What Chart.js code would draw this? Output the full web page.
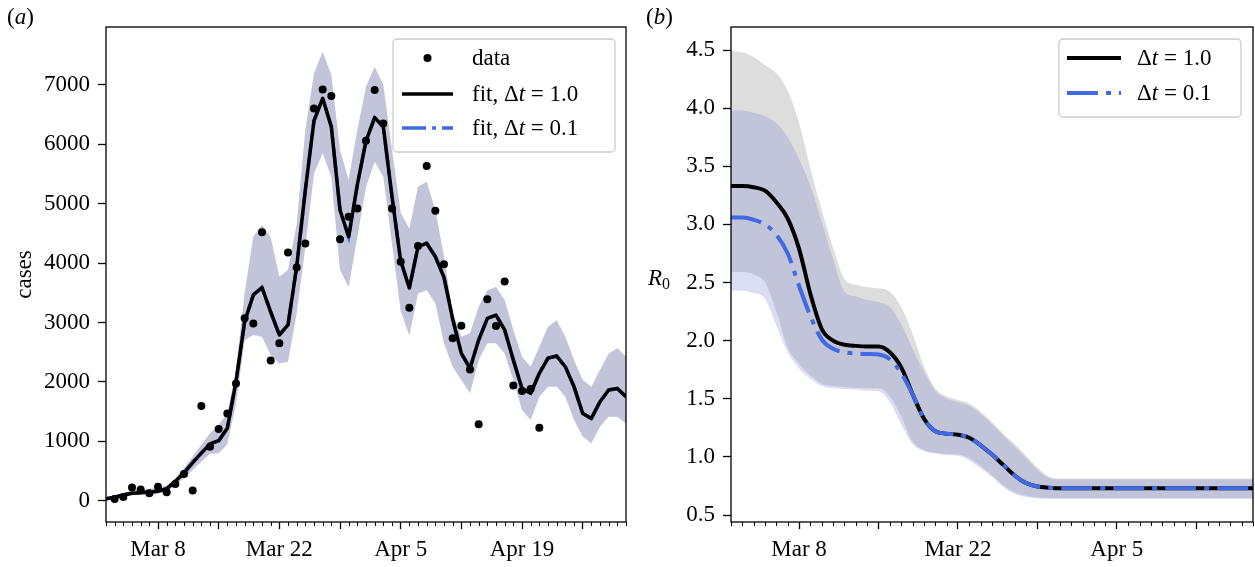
<!DOCTYPE html>
<html>
<head>
<meta charset="utf-8">
<script src="https://cdn.jsdelivr.net/npm/chart.js@4.4.0/dist/chart.umd.min.js"></script>
<style>
  html, body { margin: 0; padding: 0; background: #fff; }
  #wrap { position: relative; width: 1255px; height: 567px; overflow: hidden; }
  .panel { position: absolute; top: 0; }
  #panelA { left: 0; }
  #panelB { left: 630px; }
</style>
</head>
<body>
<div id="wrap">
  <div class="panel" id="panelA"><canvas id="casesChart" width="630" height="567"></canvas></div>
  <div class="panel" id="panelB"><canvas id="r0Chart" width="625" height="567"></canvas></div>
</div>
<script>
// ---- panel (a): daily cases, day 0 = Mar 2 ----
const caseDays = [1, 2, 3, 4, 5, 6, 7, 8, 9, 10, 11, 12, 13, 14, 15, 16, 17, 18, 19, 20,
  21, 22, 23, 24, 25, 26, 27, 28, 29, 30, 31, 32, 33, 34, 35, 36, 37, 38, 39, 40,
  41, 42, 43, 44, 45, 46, 47, 48, 49, 50];
const caseCounts = [28, 60, 220, 190, 125, 235, 140, 280, 450, 170, 1595, 910, 1207, 1470, 1975, 3070, 2985, 4520, 2360, 2650,
  4180, 3925, 4330, 6605, 6925, 6815, 4400, 4780, 4920, 6060, 6915, 6350, 4920, 4025, 3250, 4290, 5635, 4880, 3980, 2735,
  2945, 2210, 1285, 3390, 2940, 3690, 1940, 1845, 1880, 1230];

const fitDays = [0, 1, 2, 3, 4, 5, 6, 7, 8, 9, 10, 11, 12, 13, 14, 15, 16, 17, 18, 19, 20,
  21, 22, 23, 24, 25, 26, 27, 28, 29, 30, 31, 32, 33, 34, 35, 36, 37, 38, 39, 40,
  41, 42, 43, 44, 45, 46, 47, 48, 49, 50, 51, 52, 53, 54, 55, 56, 57, 58, 59, 60];
const fitCases = [30, 60, 95, 125, 135, 145, 160, 200, 325, 470, 640, 800, 955, 1010, 1220, 2005, 3015, 3465, 3590, 3180, 2790,
  2960, 3940, 5230, 6400, 6775, 6295, 4895, 4445, 5320, 6060, 6450, 6295, 5120, 4040, 3580, 4275, 4335, 4110, 3760, 3060,
  2480, 2230, 2705, 3070, 3125, 2875, 2370, 1890, 1810, 2145, 2400, 2435, 2255, 1920, 1470, 1385, 1665, 1865, 1890, 1750];
const fitCasesHigh = [60, 95, 130, 170, 185, 200, 215, 260, 380, 550, 740, 940, 1135, 1280, 1470, 2200, 3500, 4450, 4640, 4440, 3770,
  3885, 4650, 6240, 7195, 7560, 7165, 5905, 5400, 6240, 6970, 7305, 7000, 5905, 4850, 4580, 5285, 5370, 4895, 4110, 3155,
  2760, 2820, 3265, 3545, 3600, 3380, 2875, 2425, 2255, 2590, 2930, 3040, 2760, 2370, 2030, 1920, 2200, 2480, 2565, 2425];
const fitCasesLow = [0, 30, 65, 90, 100, 110, 120, 150, 265, 375, 515, 655, 790, 800, 950, 1640, 2705, 2790, 2760, 2455, 2310,
  2340, 3150, 4275, 5510, 5850, 5455, 3885, 3600, 4445, 5285, 5705, 5455, 4335, 3200, 2780, 3490, 3545, 3325, 2650, 2255,
  2030, 1810, 2370, 2650, 2650, 2480, 2030, 1525, 1360, 1750, 1920, 1920, 1750, 1360, 1080, 965, 1245, 1415, 1415, 1300];
// the two fits coincide in panel (a)
const fitCasesDt01 = fitCases;
const caseTicks = [0, 1000, 2000, 3000, 4000, 5000, 6000, 7000];

// ---- panel (b): R0, day 0 = Mar 2 ----
const r0Days = [0, 1, 2, 3, 4, 5, 6, 7, 8, 9, 10, 11, 12, 13, 14, 15, 16, 17, 18, 19, 20, 21, 22, 23,
  24, 25, 26, 27, 28, 29, 30, 31, 32, 33, 34, 35, 36, 37, 38, 39, 40, 41, 42, 43, 44, 45, 46];
const r0Dt10 = [3.33, 3.33, 3.32, 3.29, 3.19, 3.05, 2.79, 2.40, 2.10, 2.00, 1.965, 1.955, 1.95, 1.95, 1.90, 1.77,
  1.54, 1.33, 1.22, 1.20, 1.19, 1.165, 1.10, 1.02, 0.93, 0.84, 0.775, 0.745, 0.735,
  0.73, 0.73, 0.73, 0.73, 0.73, 0.73, 0.73, 0.73, 0.73, 0.73, 0.73, 0.73, 0.73, 0.73, 0.73, 0.73, 0.73, 0.73];
const r0Dt01 = [3.06, 3.06, 3.04, 3.00, 2.91, 2.75, 2.47, 2.21, 2.01, 1.93, 1.90, 1.89, 1.885, 1.88, 1.84, 1.72,
  1.54, 1.33, 1.22, 1.20, 1.19, 1.165, 1.10, 1.02, 0.93, 0.84, 0.775, 0.745, 0.735,
  0.73, 0.73, 0.73, 0.73, 0.73, 0.73, 0.73, 0.73, 0.73, 0.73, 0.73, 0.73, 0.73, 0.73, 0.73, 0.73, 0.73, 0.73];
const r0Dt10High = [4.49, 4.48, 4.44, 4.37, 4.30, 4.15, 3.87, 3.48, 3.12, 2.80, 2.53, 2.48, 2.46, 2.45, 2.42, 2.29,
  2.06, 1.78, 1.59, 1.52, 1.49, 1.46, 1.39, 1.30, 1.20, 1.11, 1.01, 0.91, 0.83,
  0.815, 0.815, 0.815, 0.815, 0.815, 0.815, 0.815, 0.815, 0.815, 0.815, 0.815, 0.815, 0.815, 0.815, 0.815, 0.815, 0.815, 0.815];
const r0Dt10Low = [2.59, 2.59, 2.57, 2.50, 2.25, 1.94, 1.80, 1.70, 1.63, 1.61, 1.60, 1.595, 1.59, 1.59, 1.52, 1.35,
  1.13, 1.06, 1.035, 1.025, 1.02, 0.99, 0.92, 0.84, 0.755, 0.695, 0.665, 0.65, 0.645,
  0.645, 0.645, 0.645, 0.645, 0.645, 0.645, 0.645, 0.645, 0.645, 0.645, 0.645, 0.645, 0.645, 0.645, 0.645, 0.645, 0.645, 0.645];
const r0Dt01High = [3.98, 3.98, 3.96, 3.93, 3.87, 3.75, 3.56, 3.33, 3.02, 2.70, 2.42, 2.38, 2.35, 2.33, 2.29, 2.14,
  1.93, 1.73, 1.57, 1.50, 1.47, 1.44, 1.37, 1.28, 1.18, 1.09, 0.99, 0.89, 0.82,
  0.805, 0.805, 0.805, 0.805, 0.805, 0.805, 0.805, 0.805, 0.805, 0.805, 0.805, 0.805, 0.805, 0.805, 0.805, 0.805, 0.805, 0.805];
const r0Dt01Low = [2.43, 2.43, 2.41, 2.36, 2.13, 1.90, 1.76, 1.67, 1.61, 1.59, 1.585, 1.58, 1.57, 1.565, 1.47, 1.28,
  1.11, 1.05, 1.03, 1.015, 1.01, 0.97, 0.90, 0.83, 0.74, 0.68, 0.655, 0.645, 0.64,
  0.64, 0.64, 0.64, 0.64, 0.64, 0.64, 0.64, 0.64, 0.64, 0.64, 0.64, 0.64, 0.64, 0.64, 0.64, 0.64, 0.64, 0.64];
const r0Ticks = [0.5, 1.0, 1.5, 2.0, 2.5, 3.0, 3.5, 4.0, 4.5];

// ---- shared date axis ----
const weekTickDays = [6, 13, 20, 27, 34, 41, 48, 55];
const dateTickDays = [6, 20, 34, 48];
const dateTickLabels = ['Mar 8', 'Mar 22', 'Apr 5', 'Apr 19'];

const SERIF = '"Liberation Serif", "Times New Roman", serif';
const FS = 23;
const BLUE = '#4169e1';
const GREY_BAND = 'rgba(128,128,128,0.27)';
const BLUE_BAND = 'rgba(110,118,205,0.25)';
Chart.defaults.font.family = SERIF;
Chart.defaults.color = '#000';

const xy = (xs, ys) => xs.map((x, i) => ({ x: x, y: ys[i] }));

function richText(ctx, parts, x, y, size) {
    parts.forEach(([txt, italic]) => {
        ctx.font = (italic ? 'italic ' : '') + size + 'px ' + SERIF;
        ctx.fillText(txt, x, y);
        x += ctx.measureText(txt).width;
    });
    return x;
}

// frame, minor ticks, panel letter, legend, horizontal y label
function panelDecor(o) {
    return {
        id: 'panelDecor',
        afterDraw(chart) {
            const ctx = chart.ctx, area = chart.chartArea, xs = chart.scales.x;
            ctx.save();
            ctx.strokeStyle = '#000';
            ctx.lineWidth = 1;
            for (let d = Math.ceil(xs.min); d <= xs.max; d++) {
                if (weekTickDays.includes(d)) continue;
                const px = Math.round(xs.getPixelForValue(d)) + 0.5;
                ctx.beginPath();
                ctx.moveTo(px, area.bottom);
                ctx.lineTo(px, area.bottom + 4);
                ctx.stroke();
            }
            ctx.lineWidth = 1.3;
            ctx.strokeRect(area.left, area.top, area.right - area.left, area.bottom - area.top);

            ctx.fillStyle = '#000';
            ctx.textBaseline = 'alphabetic';
            richText(ctx, [['(', false], [o.letter, true], [')', false]], o.letterX, 24, FS);

            if (o.yLabel) {
                let x = richText(ctx, [['R', true]], o.yLabel.x, o.yLabel.y, FS);
                richText(ctx, [['0', false]], x, o.yLabel.y + 4, 16);
            }

            const b = o.legend;
            ctx.beginPath();
            ctx.roundRect(b.x, b.y, b.w, b.h, 4);
            ctx.fillStyle = 'rgba(255,255,255,0.8)';
            ctx.fill();
            ctx.strokeStyle = '#cccccc';
            ctx.lineWidth = 1.3;
            ctx.stroke();
            b.entries.forEach((e, i) => {
                const cy = b.rowY[i];
                if (e.kind === 'dot') {
                    ctx.beginPath();
                    ctx.arc((b.hx0 + b.hx1) / 2, cy, 4, 0, Math.PI * 2);
                    ctx.fillStyle = '#000';
                    ctx.fill();
                } else {
                    ctx.beginPath();
                    ctx.setLineDash(e.dash || []);
                    ctx.lineCap = 'butt';
                    ctx.strokeStyle = e.color;
                    ctx.lineWidth = e.width;
                    ctx.moveTo(b.hx0, cy);
                    ctx.lineTo(b.hx1, cy);
                    ctx.stroke();
                    ctx.setLineDash([]);
                }
                ctx.fillStyle = '#000';
                richText(ctx, e.parts, b.tx, cy + 7, FS);
            });
            ctx.restore();
        }
    };
}

function dateAxis(max) {
    return {
        type: 'linear', min: 0, max: max,
        afterBuildTicks: s => { s.ticks = weekTickDays.filter(d => d <= max).map(v => ({ value: v })); },
        afterFit: s => { s.height = 45; },
        border: { display: false },
        grid: { drawOnChartArea: false, tickLength: 7, tickWidth: 1.3, tickColor: '#000' },
        ticks: {
            autoSkip: false, maxRotation: 0, minRotation: 0, padding: 7,
            font: { size: FS },
            callback: v => { const i = dateTickDays.indexOf(v); return i < 0 ? '' : dateTickLabels[i]; }
        }
    };
}

function bandSets(high, low, days, color, order, curve) {
    const common = { pointRadius: 0, borderColor: 'transparent', borderWidth: 1, order: order,
        cubicInterpolationMode: curve ? 'monotone' : 'default', tension: 0 };
    return [
        Object.assign({ data: xy(days, high), fill: '+1', backgroundColor: color }, common),
        Object.assign({ data: xy(days, low), fill: false }, common)
    ];
}

// Panel (a)
document.addEventListener('DOMContentLoaded', function () {
    const dashA = [24, 6, 4, 6];
    new Chart(document.getElementById('casesChart').getContext('2d'), {
        type: 'line',
        data: {
            datasets: [
                ...bandSets(fitCasesHigh, fitCasesLow, fitDays, GREY_BAND, 6, false),
                ...bandSets(fitCasesHigh, fitCasesLow, fitDays, BLUE_BAND, 5, false),
                { data: xy(fitDays, fitCasesDt01), borderColor: BLUE, borderWidth: 3.5, borderDash: dashA,
                  pointRadius: 0, fill: false, tension: 0, order: 2 },
                { data: xy(fitDays, fitCases), borderColor: '#000', borderWidth: 3.5,
                  pointRadius: 0, fill: false, tension: 0, order: 1, borderJoinStyle: 'round' },
                { data: xy(caseDays, caseCounts), showLine: false, pointRadius: 4,
                  pointBackgroundColor: '#000', pointBorderWidth: 0, order: 0 }
            ]
        },
        options: {
            responsive: false, animation: false, events: [],
            layout: { padding: { left: 0, right: 4, top: 27, bottom: 0 } },
            plugins: { legend: { display: false }, tooltip: { enabled: false } },
            scales: {
                x: dateAxis(60),
                y: {
                    type: 'linear', min: -359, max: 7976,
                    afterBuildTicks: s => { s.ticks = caseTicks.map(v => ({ value: v })); },
                    afterFit: s => { s.width = 106; },
                    border: { display: false },
                    grid: { drawOnChartArea: false, tickLength: 8, tickWidth: 1.3, tickColor: '#000' },
                    ticks: { padding: 8, font: { size: FS }, callback: v => String(v) },
                    title: { display: true, text: 'cases', font: { size: FS }, padding: { top: 11, bottom: 0 } }
                }
            }
        },
        plugins: [panelDecor({
            letter: 'a', letterX: 7,
            legend: {
                x: 393, y: 39, w: 222, h: 113, rowY: [58, 94, 128], hx0: 402, hx1: 453, tx: 472,
                entries: [
                    { kind: 'dot', parts: [['data', false]] },
                    { kind: 'line', color: '#000', width: 3.5, parts: [['fit, \u0394', false], ['t', true], [' = 1.0', false]] },
                    { kind: 'line', color: BLUE, width: 3.5, dash: dashA, parts: [['fit, \u0394', false], ['t', true], [' = 0.1', false]] }
                ]
            }
        })]
    });
});

// Panel (b)
document.addEventListener('DOMContentLoaded', function () {
    const dashB = [31, 8, 5, 8];
    new Chart(document.getElementById('r0Chart').getContext('2d'), {
        type: 'line',
        data: {
            datasets: [
                ...bandSets(r0Dt10High, r0Dt10Low, r0Days, GREY_BAND, 6, true),
                ...bandSets(r0Dt01High, r0Dt01Low, r0Days, BLUE_BAND, 5, true),
                { data: xy(r0Days, r0Dt10), borderColor: '#000', borderWidth: 4, pointRadius: 0, fill: false,
                  cubicInterpolationMode: 'monotone', order: 2 },
                { data: xy(r0Days, r0Dt01), borderColor: BLUE, borderWidth: 4, borderDash: dashB, pointRadius: 0,
                  fill: false, cubicInterpolationMode: 'monotone', order: 1 }
            ]
        },
        options: {
            responsive: false, animation: false, events: [],
            layout: { padding: { left: 0, right: 2, top: 27, bottom: 0 } },
            plugins: { legend: { display: false }, tooltip: { enabled: false } },
            scales: {
                x: dateAxis(46),
                y: {
                    type: 'linear', min: 0.44, max: 4.698,
                    afterBuildTicks: s => { s.ticks = r0Ticks.map(v => ({ value: v })); },
                    afterFit: s => { s.width = 101; },
                    border: { display: false },
                    grid: { drawOnChartArea: false, tickLength: 8, tickWidth: 1.3, tickColor: '#000' },
                    ticks: { padding: 8, font: { size: FS }, callback: v => v.toFixed(1) }
                }
            }
        },
        plugins: [panelDecor({
            letter: 'b', letterX: 16,
            yLabel: { x: 18, y: 285 },
            legend: {
                x: 429, y: 39, w: 182, h: 78, rowY: [58, 93], hx0: 437, hx1: 491, tx: 507,
                entries: [
                    { kind: 'line', color: '#000', width: 4, parts: [['\u0394', false], ['t', true], [' = 1.0', false]] },
                    { kind: 'line', color: BLUE, width: 4, dash: dashB, parts: [['\u0394', false], ['t', true], [' = 0.1', false]] }
                ]
            }
        })]
    });
});
</script>
</body>
</html>
